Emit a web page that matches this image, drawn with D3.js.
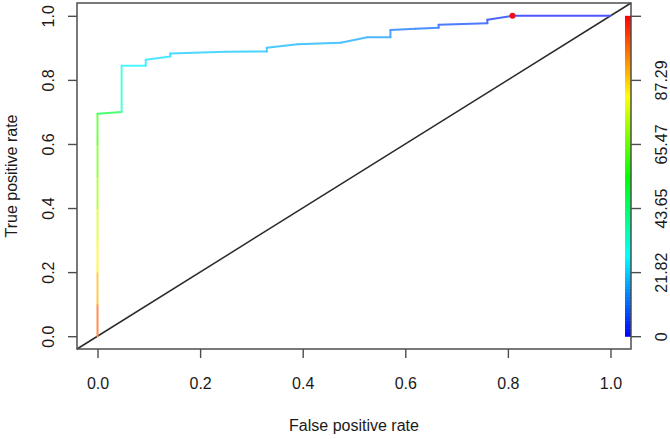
<!DOCTYPE html>
<html>
<head>
<meta charset="utf-8">
<script src="https://cdn.jsdelivr.net/npm/d3@7"></script>
<style>
  body { margin: 0; background: #fff; }
  text { font-family: "Liberation Sans", Arial, sans-serif; fill: #1a1a1a; }
</style>
</head>
<body>
<div id="chart"></div>
<script>
// ROC curve points
const fpr = [0, 0, 0, 0, 0, 0, 0, 0, 0.047, 0.047, 0.094, 0.094, 0.142, 0.142, 0.25, 0.33, 0.33,
  0.39, 0.474, 0.526, 0.571, 0.571, 0.62, 0.665, 0.665, 0.76, 0.76, 0.809, 1.0];
const tpr = [0, 0.1, 0.2, 0.3, 0.4, 0.5, 0.6, 0.694, 0.70, 0.844, 0.844, 0.8625, 0.873, 0.882, 0.8875, 0.889, 0.90,
  0.911, 0.916, 0.933, 0.933, 0.956, 0.96, 0.963, 0.972, 0.977, 0.9875, 1.0, 1.0];
const cutoff = [104, 94, 86, 80, 74, 68, 63, 58, 40, 27, 25, 24, 23, 22, 21, 20, 19,
  19, 18, 17, 15, 12, 11, 10, 8, 6, 5, 3, 0];

const axisTicks = [0, 0.2, 0.4, 0.6, 0.8, 1.0];
const colorTicks = [0, 21.82, 43.65, 65.47, 87.29, 109.11];
const colorMax = 109.11;
const markedPoint = [0.809, 1.0];

const width = 670;
const height = 439;

const svg = d3.select("#chart")
  .append("svg")
  .attr("width", width)
  .attr("height", height);

const x = d3.scaleLinear().domain([-0.04, 1.04]).range([77, 631]);
const y = d3.scaleLinear().domain([-0.04, 1.04]).range([349, 3]);
const hue = d3.scaleLinear().domain([0, colorMax]).range([240, 0]);
const colorOf = c => d3.hsl(hue(c), 1, 0.5).toString();
const paleOf = c => d3.interpolateRgb(colorOf(c), "#ffffff")(0.3);
const cy = d3.scaleLinear().domain([0, colorMax]).range([y(0), y(1)]);

// diagonal reference line across the whole plot region
svg.append("line")
  .attr("x1", x(-0.04)).attr("y1", y(-0.04))
  .attr("x2", x(1.04)).attr("y2", y(1.04))
  .attr("stroke", "#2a2a2a")
  .attr("stroke-width", 1.5);

// colour key
const steps = d3.range(0, 200);
svg.append("g").selectAll("rect")
  .data(steps)
  .enter().append("rect")
  .attr("x", 625)
  .attr("width", 6)
  .attr("y", i => cy(colorMax * (i + 1) / 200))
  .attr("height", i => cy(colorMax * i / 200) - cy(colorMax * (i + 1) / 200) + 0.6)
  .attr("fill", i => colorOf(colorMax * (i + 0.5) / 200));

// the curve, one segment per pair of points
const pts = fpr.map((f, i) => ({ f, t: tpr[i], c: cutoff[i] }));
svg.append("g").selectAll("line")
  .data(pts.slice(1).map((p, i) => [pts[i], p]))
  .enter().append("line")
  .attr("x1", d => x(d[0].f)).attr("y1", d => y(d[0].t))
  .attr("x2", d => x(d[1].f)).attr("y2", d => y(d[1].t))
  .attr("stroke", d => paleOf((d[0].c + d[1].c) / 2))
  .attr("stroke-width", 2)
  .attr("stroke-linecap", "round");

svg.append("circle")
  .attr("cx", x(markedPoint[0]))
  .attr("cy", y(markedPoint[1]))
  .attr("r", 3)
  .attr("fill", "#e8101a");

// box
svg.append("rect")
  .attr("x", 77).attr("y", 3)
  .attr("width", 631 - 77).attr("height", 349 - 3)
  .attr("fill", "none")
  .attr("stroke", "#4d4d4d")
  .attr("stroke-width", 1.5);

const fmt = d3.format(".1f");

const xAxis = svg.append("g")
  .attr("transform", "translate(0,349)")
  .call(d3.axisBottom(x).tickValues(axisTicks).tickFormat(fmt).tickSize(9).tickSizeOuter(0));
xAxis.select(".domain").remove();
xAxis.selectAll("line").attr("stroke", "#4d4d4d").attr("stroke-width", 1.4);
xAxis.selectAll("text").attr("y", 40).attr("dy", null)
  .style("font-size", "16px").style("fill", "#1a1a1a")
  .attr("font-family", null);

const yAxis = svg.append("g")
  .attr("transform", "translate(77,0)")
  .call(d3.axisLeft(y).tickValues(axisTicks).tickFormat(fmt).tickSize(9).tickSizeOuter(0));
yAxis.select(".domain").remove();
yAxis.selectAll("line").attr("stroke", "#4d4d4d").attr("stroke-width", 1.4);
yAxis.selectAll("text")
  .attr("x", 0).attr("y", -23).attr("dy", null)
  .attr("transform", "rotate(-90)")
  .attr("text-anchor", "middle")
  .style("font-size", "16px").style("fill", "#1a1a1a")
  .attr("font-family", null);

// colour key axis on the right
const cAxis = svg.append("g")
  .attr("transform", "translate(631,0)")
  .call(d3.axisRight(cy).tickValues(colorTicks).tickFormat(d => d === colorMax ? "" : d3.format("")(d)).tickSize(10).tickSizeOuter(0));
cAxis.select(".domain").remove();
cAxis.selectAll("line").attr("stroke", "#4d4d4d").attr("stroke-width", 1.4);
cAxis.selectAll("text")
  .attr("x", 0).attr("y", 36).attr("dy", null)
  .attr("transform", "rotate(-90)")
  .attr("text-anchor", "middle")
  .style("font-size", "16px").style("fill", "#1a1a1a")
  .attr("font-family", null);

svg.append("text")
  .attr("x", 354).attr("y", 431)
  .attr("text-anchor", "middle")
  .style("font-size", "16px")
  .text("False positive rate");

svg.append("text")
  .attr("transform", "translate(17,176) rotate(-90)")
  .attr("text-anchor", "middle")
  .style("font-size", "16px")
  .text("True positive rate");
</script>
</body>
</html>
